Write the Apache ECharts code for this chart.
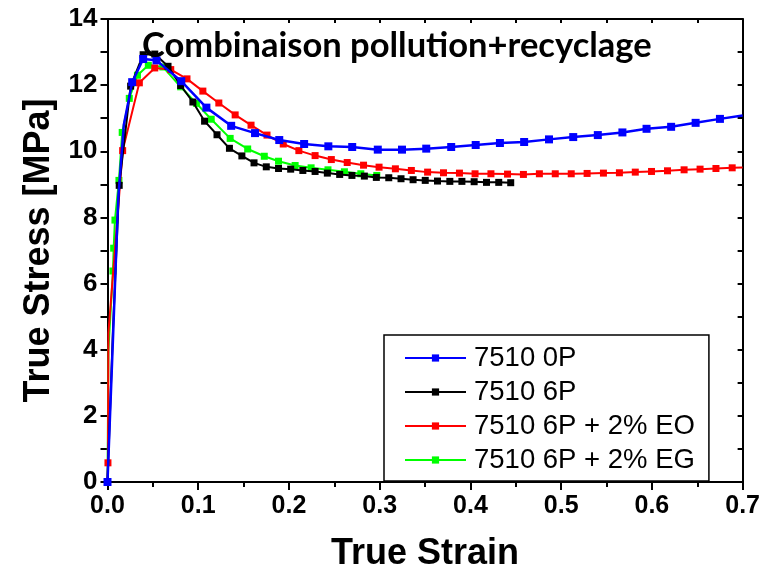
<!DOCTYPE html>
<html><head><meta charset="utf-8">
<script src="https://cdn.jsdelivr.net/npm/echarts@6/dist/echarts.min.js"></script>
<style>html,body{margin:0;padding:0;background:#fff}#c{width:763px;height:577px}</style>
</head><body><div id="c"></div>
<script>
const chartTitle = 'Combinaison pollution+recyclage';
const xAxisTitle = 'True Strain';
const yAxisTitle = 'True Stress [MPa]';
const seriesNames = ['7510 0P', '7510 6P', '7510 6P + 2% EO', '7510 6P + 2% EG'];
const xTickLabels = ['0.0','0.1','0.2','0.3','0.4','0.5','0.6','0.7'];
const yTickLabels = ['0','2','4','6','8','10','12','14'];

// 7510 0P (blue)
const blueMarked = [[0,0],[0.0272,12.09],[0.0393,12.79],[0.054,12.75],[0.0813,12.12],[0.109,11.32],[0.1363,10.77],
  [0.1626,10.55],[0.1893,10.34],[0.2167,10.22],[0.2434,10.15],[0.2697,10.13],[0.2979,10.05],[0.3246,10.05],
  [0.3513,10.08],[0.3788,10.13],[0.4058,10.19],[0.4325,10.25],[0.4592,10.28],[0.4866,10.36],[0.5133,10.43],
  [0.5404,10.49],[0.5675,10.57],[0.5941,10.68],[0.6212,10.74],[0.6482,10.86],[0.675,10.98]];
const blueLine = [[0.006,4.3],[0.0118,8.57],[0.018,10.8],[0.7,11.08]];

// 7510 6P (black)
const blackMarked = [[0.0129,8.97],[0.0255,11.97],[0.0393,12.92],[0.0521,12.94],[0.0667,12.57],[0.0806,11.99],
  [0.0941,11.49],[0.107,10.91],[0.1207,10.5],[0.1344,10.09],[0.1481,9.86],[0.1615,9.65],[0.175,9.53],
  [0.1885,9.48],[0.2019,9.46],[0.2153,9.42],[0.2288,9.39],[0.2423,9.34],[0.2559,9.30],[0.2694,9.27],
  [0.2831,9.25],[0.2963,9.21],[0.31,9.20],[0.3235,9.17],[0.3368,9.14],[0.3502,9.12],[0.3637,9.10],
  [0.3773,9.09],[0.3906,9.09],[0.4041,9.08],[0.4177,9.06],[0.4312,9.06],[0.4444,9.05]];
const blackLine = [[0,0],[0.006,4.6]];

// 7510 6P + 2% EO (red)
const redMarked = [[0.0005,0.58],[0.0167,10.02],[0.0351,12.07],[0.0521,12.52],[0.0697,12.47],[0.0876,12.19],
  [0.1051,11.82],[0.1227,11.46],[0.1407,11.10],[0.1582,10.79],[0.1758,10.49],[0.1937,10.22],[0.2109,10.02],
  [0.2288,9.87],[0.2467,9.75],[0.2642,9.66],[0.2822,9.58],[0.2993,9.52],[0.3173,9.47],[0.3349,9.42],
  [0.3528,9.37],[0.3703,9.35],[0.3879,9.34],[0.4051,9.32],[0.4226,9.32],[0.4409,9.31],[0.4584,9.30],
  [0.476,9.32],[0.4935,9.32],[0.5111,9.32],[0.5286,9.33],[0.5466,9.34],[0.5642,9.35],[0.5817,9.37],
  [0.5996,9.39],[0.6172,9.41],[0.6355,9.44],[0.6531,9.46],[0.6706,9.48],[0.6885,9.50]];
const redLine = [[0,0],[0.001,4.5],[0.7,9.51]];

// 7510 6P + 2% EG (green)
const greenMarked = [[0.006,6.38],[0.0068,7.07],[0.0082,7.92],[0.0126,9.12],[0.0162,10.57],[0.024,11.6],
  [0.033,12.3],[0.045,12.6],[0.061,12.55],[0.0806,11.95],[0.098,11.45],[0.1143,10.97],[0.1352,10.39],
  [0.1545,10.07],[0.1728,9.85],[0.1885,9.70],[0.2068,9.57],[0.2244,9.50],[0.243,9.44],[0.2611,9.38],
  [0.2792,9.32],[0.2968,9.27]];
const greenLine = [[0,0],[0.001,4.0]];

function build(marked, plain) {
  const all = marked.map(p => ({value: p, symbol: 'rect'}))
    .concat(plain.map(p => ({value: p, symbol: 'none'})));
  all.sort((a, b) => a.value[0] - b.value[0] || a.value[1] - b.value[1]);
  return all;
}

const chart = echarts.init(document.getElementById('c'), null, {renderer: 'canvas'});
const axisFont = {fontFamily: 'Arial, "Liberation Sans", sans-serif', fontWeight: 'bold', color: '#000'};
const mk = (name, color, marked, plain, size, width, z) => ({
  name, type: 'line', data: build(marked, plain), xAxisIndex: 0, yAxisIndex: 0,
  symbol: 'rect', symbolSize: size, showAllSymbol: true, z,
  lineStyle: {color, width}, itemStyle: {color}, animation: false
});

chart.setOption({
  animation: false,
  title: {text: chartTitle, left: 137, top: 23,
    textStyle: {fontFamily: 'Lato, "Open Sans", sans-serif', fontWeight: 'bold', fontSize: 34.5, color: '#000'}},
  grid: {left: 107.5, right: 17, top: 19, bottom: 91, containLabel: false},
  legend: {
    data: seriesNames, orient: 'vertical', left: 384, top: 335,
    borderColor: '#000', borderWidth: 1.5, padding: [9, 14, 7, 20],
    itemWidth: 61, itemHeight: 9, itemGap: 6,
    textStyle: {fontFamily: 'Arial, "Liberation Sans", sans-serif', fontSize: 27.5, color: '#000', padding: [0,0,0,3]}
  },
  xAxis: [{
    type: 'value', min: 0, max: 0.7, interval: 0.1, position: 'bottom',
    name: xAxisTitle, nameLocation: 'middle', nameGap: 54,
    nameTextStyle: Object.assign({fontSize: 36}, axisFont),
    axisLine: {onZero: false, lineStyle: {color: '#000', width: 2}},
    axisTick: {inside: false, length: 8, lineStyle: {width: 2, color: '#000'}},
    minorTick: {show: true, splitNumber: 2, length: 5, lineStyle: {width: 2, color: '#000'}},
    axisLabel: Object.assign({fontSize: 25, margin: 12, formatter: (v) => xTickLabels[Math.round(v * 10)]}, axisFont),
    splitLine: {show: false}
  }, {
    type: 'value', min: 0, max: 0.7, interval: 0.05, position: 'top',
    axisLine: {onZero: false, lineStyle: {color: '#000', width: 2}},
    axisTick: {inside: true, length: 4, lineStyle: {width: 2, color: '#000'}},
    axisLabel: {show: false}, splitLine: {show: false}
  }],
  yAxis: [{
    type: 'value', min: 0, max: 14, interval: 2, position: 'left',
    name: yAxisTitle, nameLocation: 'middle', nameGap: 50, nameRotate: 90,
    nameTextStyle: Object.assign({fontSize: 36}, axisFont),
    axisLine: {onZero: false, lineStyle: {color: '#000', width: 2}},
    axisTick: {inside: false, length: 7, lineStyle: {width: 2, color: '#000'}},
    minorTick: {show: true, splitNumber: 2, length: 7, lineStyle: {width: 2, color: '#000'}},
    axisLabel: Object.assign({fontSize: 26, margin: 10, formatter: (v) => yTickLabels[Math.round(v / 2)]}, axisFont),
    splitLine: {show: false}
  }, {
    type: 'value', min: 0, max: 14, interval: 1, position: 'right',
    axisLine: {onZero: false, lineStyle: {color: '#000', width: 2}},
    axisTick: {inside: true, length: 5, lineStyle: {width: 2, color: '#000'}},
    axisLabel: {show: false}, splitLine: {show: false}
  }],
  series: [
    mk(seriesNames[3], '#00ff00', greenMarked, greenLine, 7, 2, 2),
    mk(seriesNames[2], '#ff0000', redMarked, redLine, 7, 2, 3),
    mk(seriesNames[1], '#000000', blackMarked, blackLine, 7, 2, 4),
    mk(seriesNames[0], '#0000ff', blueMarked, blueLine, 8, 2.5, 5)
  ]
});
</script></body></html>
